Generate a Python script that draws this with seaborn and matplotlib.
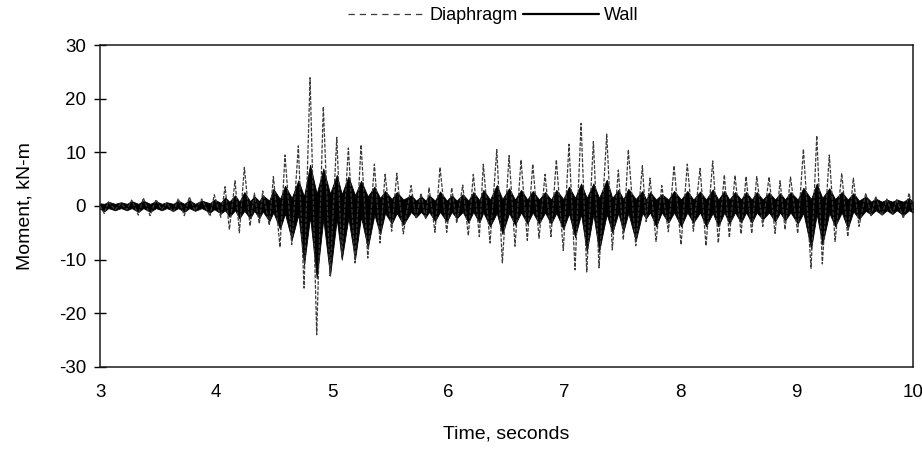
import numpy as np
import pandas as pd
import matplotlib
matplotlib.use("Agg")
import matplotlib.pyplot as plt
from matplotlib.lines import Line2D
import seaborn as sns

# ---- data (peak times in s, moments in kN-m) ----
time_s = [3.000, 3.037, 3.071, 3.129, 3.181, 3.230, 3.273, 3.330, 3.373, 3.431,
          3.482, 3.531, 3.574, 3.631, 3.674, 3.726, 3.769, 3.818, 3.876, 3.947,
          3.984, 4.040, 4.077, 4.114, 4.163, 4.200, 4.243, 4.292, 4.329, 4.372,
          4.401, 4.458, 4.493, 4.550, 4.593, 4.651, 4.708, 4.757, 4.809, 4.866,
          4.923, 4.981, 5.039, 5.082, 5.139, 5.196, 5.248, 5.306, 5.363, 5.412,
          5.455, 5.512, 5.556, 5.612, 5.679, 5.722, 5.765, 5.804, 5.834, 5.885,
          5.928, 5.986, 6.029, 6.072, 6.124, 6.172, 6.215, 6.267, 6.301, 6.359,
          6.417, 6.465, 6.523, 6.574, 6.626, 6.680, 6.727, 6.781, 6.833, 6.884,
          6.930, 6.990, 7.039, 7.091, 7.143, 7.192, 7.249, 7.298, 7.364, 7.412,
          7.464, 7.507, 7.550, 7.614, 7.671, 7.703, 7.737, 7.789, 7.838, 7.895,
          7.944, 8.004, 8.058, 8.110, 8.168, 8.219, 8.277, 8.325, 8.377, 8.420,
          8.469, 8.521, 8.564, 8.613, 8.656, 8.708, 8.762, 8.814, 8.857, 8.900,
          8.947, 9.009, 9.058, 9.124, 9.173, 9.221, 9.281, 9.331, 9.388, 9.440,
          9.488, 9.537, 9.595, 9.641, 9.681, 9.733, 9.776, 9.824, 9.862, 9.919,
          9.968, 10.000]

diaphragm = [0.0, -1.4, 0.8, -0.7, 0.5, -0.7, 1.1, -1.7, 1.5, -1.8,
             1.2, -0.7, 0.6, -1.2, 1.4, -1.8, 1.7, -0.9, 1.3, -1.9,
             2.1, -2.1, 3.6, -4.4, 4.7, -5.0, 7.2, -3.7, 2.4, -3.3,
             2.8, -3.6, 5.5, -7.7, 9.5, -7.2, 11.2, -15.3, 23.9, -24.0,
             18.5, -13.0, 12.8, -9.6, 10.8, -10.6, 11.4, -9.7, 7.8, -6.9,
             5.9, -4.7, 6.1, -5.2, 3.8, -2.4, 2.4, -2.5, 3.4, -4.9,
             7.2, -4.9, 3.4, -3.2, 3.9, -5.5, 5.9, -5.7, 7.8, -6.9,
             10.5, -10.6, 9.4, -7.5, 8.6, -6.4, 7.8, -6.0, 5.9, -5.7,
             8.6, -8.3, 11.5, -11.9, 15.4, -12.3, 12.0, -11.5, 13.4, -8.2,
             6.7, -6.3, 10.5, -7.4, 7.5, -2.9, 5.2, -6.6, 3.8, -4.8,
             7.5, -7.2, 7.8, -4.7, 7.0, -7.4, 8.4, -6.9, 5.8, -5.9,
             5.7, -5.2, 5.5, -5.1, 5.5, -3.8, 5.4, -5.1, 4.7, -4.4,
             5.4, -5.1, 10.6, -11.6, 13.1, -10.8, 9.5, -6.6, 6.1, -5.7,
             5.2, -3.8, 2.4, -1.8, 1.8, -1.8, 1.3, -1.5, 1.2, -2.3,
             2.4, -1.0]

# wall moment: upper and lower extent of its dense trace at the same instants
wall_hi = [0.5, 0.4, 0.8, 0.4, 0.7, 0.4, 0.9, 0.4, 1.0, 0.4,
           0.9, 0.4, 0.7, 0.4, 1.0, 0.4, 1.1, 0.4, 1.0, 0.5,
           1.2, 0.6, 1.6, 0.8, 2.0, 0.8, 2.6, 0.9, 1.8, 0.9,
           2.0, 1.0, 3.2, 1.3, 3.8, 1.5, 4.8, 1.8, 7.7, 2.3,
           7.0, 2.3, 5.8, 2.2, 5.5, 2.0, 4.7, 1.8, 3.6, 1.5,
           2.8, 1.3, 2.6, 1.2, 2.0, 1.0, 1.8, 1.0, 2.0, 1.0,
           2.7, 1.0, 2.0, 1.0, 2.2, 1.0, 2.6, 1.1, 3.0, 1.2,
           3.9, 1.3, 3.3, 1.2, 3.0, 1.2, 2.8, 1.2, 2.6, 1.2,
           3.0, 1.3, 3.6, 1.5, 4.2, 1.5, 4.2, 1.5, 4.9, 1.5,
           3.0, 1.3, 3.2, 1.3, 2.8, 1.2, 2.6, 1.2, 2.2, 1.2,
           2.8, 1.2, 2.8, 1.2, 2.7, 1.2, 3.1, 1.2, 2.8, 1.2,
           2.6, 1.2, 2.6, 1.2, 2.6, 1.2, 2.5, 1.2, 2.4, 1.2,
           2.6, 1.2, 3.4, 1.3, 4.2, 1.5, 3.3, 1.3, 2.6, 1.2,
           2.4, 1.0, 1.8, 0.8, 1.4, 0.8, 1.2, 0.8, 1.2, 0.8,
           1.5, 0.8]

wall_lo = [-0.5, -1.0, -0.4, -0.8, -0.4, -0.8, -0.4, -1.1, -0.4, -1.1,
           -0.4, -0.8, -0.4, -0.9, -0.4, -1.1, -0.4, -0.9, -0.4, -1.2,
           -0.6, -1.4, -0.8, -2.0, -0.8, -2.3, -0.9, -2.3, -0.9, -2.3,
           -1.0, -2.8, -1.2, -4.3, -1.4, -6.3, -1.6, -11.0, -2.0, -13.5,
           -2.4, -13.0, -2.4, -10.0, -2.2, -10.0, -2.0, -7.8, -1.6, -5.3,
           -1.3, -3.3, -1.3, -3.5, -1.1, -2.1, -1.1, -2.1, -1.1, -2.8,
           -1.1, -2.9, -1.1, -2.3, -1.1, -3.1, -1.1, -3.1, -1.2, -3.8,
           -1.3, -5.2, -1.3, -3.5, -1.2, -3.3, -1.2, -3.3, -1.2, -3.3,
           -1.3, -4.3, -1.4, -5.8, -1.5, -8.5, -1.5, -8.5, -1.5, -5.0,
           -1.3, -4.8, -1.3, -6.5, -1.3, -2.3, -1.2, -3.8, -1.2, -3.1,
           -1.2, -3.8, -1.2, -3.1, -1.2, -3.8, -1.3, -3.8, -1.2, -3.3,
           -1.2, -3.1, -1.2, -3.1, -1.2, -2.5, -1.2, -2.9, -1.2, -2.7,
           -1.2, -3.3, -1.3, -8.0, -1.5, -7.2, -1.3, -3.8, -1.2, -4.2,
           -1.0, -2.4, -0.9, -1.6, -0.8, -1.6, -0.8, -1.5, -0.8, -1.7,
           -0.8, -1.2]

x_ticks = [3, 4, 5, 6, 7, 8, 9, 10]
y_ticks = [-30, -20, -10, 0, 10, 20, 30]

assert len(time_s) == len(diaphragm) == len(wall_hi) == len(wall_lo)

# ---- frames ----
diaph_df = pd.DataFrame({"t": time_s, "m": diaphragm})
wall_df = pd.DataFrame({"t": time_s + time_s, "m": wall_hi + wall_lo})

sns.set_theme(style="white")
plt.rcParams["font.family"] = ["Liberation Sans", "DejaVu Sans"]
plt.rcParams["text.color"] = "black"
plt.rcParams["axes.labelcolor"] = "black"
plt.rcParams["xtick.color"] = "black"
plt.rcParams["ytick.color"] = "black"

fig = plt.figure(figsize=(9.22, 4.5), dpi=100)
ax = fig.add_axes([0.1085, 0.1845, 0.8815, 0.7155])

# wall: dense black trace shown as its min-max envelope
sns.lineplot(data=wall_df, x="t", y="m", ax=ax, color="black", linewidth=1.6,
             estimator="mean", errorbar=("pi", 100),
             err_kws={"alpha": 1.0, "linewidth": 0.6, "edgecolor": "black"})
ax.axhline(0, color="black", linewidth=1.0, zorder=1.5)

# diaphragm: thin dashed grey line
sns.lineplot(data=diaph_df, x="t", y="m", ax=ax, color="#3a3a3a",
             linewidth=0.9, linestyle=(0, (3, 1.2)), zorder=3)

ax.set_xlim(3, 10)
ax.set_ylim(-30, 30)
ax.set_xticks(x_ticks)
ax.set_yticks(y_ticks)
ax.set_xticklabels([str(v) for v in x_ticks])
ax.set_yticklabels([str(v) for v in y_ticks])
ax.tick_params(axis="y", which="major", direction="inout", length=8, width=1,
               color="black", labelsize=13.5, pad=6, left=True)
ax.tick_params(axis="x", which="major", length=0, labelsize=13.5, pad=12)
for s in ax.spines.values():
    s.set_visible(True)
    s.set_color("#1a1a1a")
    s.set_linewidth(1.1)

ax.set_xlabel("Time, seconds", fontsize=14, labelpad=18)
ax.set_ylabel("Moment, kN-m", fontsize=14, labelpad=18)

handles = [Line2D([0], [0], color="#3a3a3a", linewidth=0.9, linestyle=(0, (5, 4))),
           Line2D([0], [0], color="black", linewidth=1.6)]
fig.legend(handles, ["Diaphragm", "Wall"], loc="center", bbox_to_anchor=(0.535, 0.965),
           ncol=2, frameon=False, fontsize=13, handlelength=4.2,
           columnspacing=0.3, handletextpad=0.3)

fig.savefig("out.png", dpi=100)
